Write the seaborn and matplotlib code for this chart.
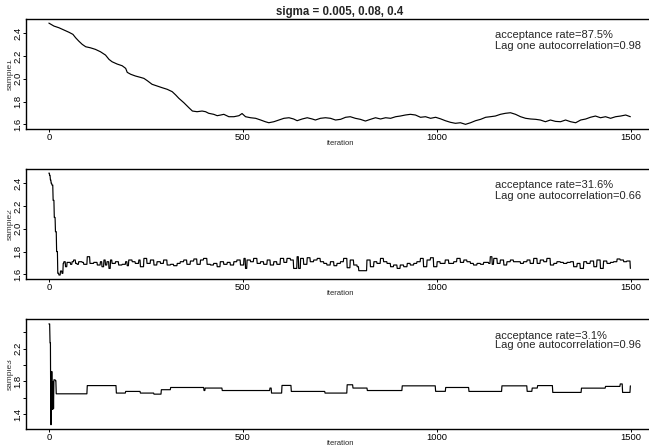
import numpy as np
import pandas as pd
import matplotlib
matplotlib.use("Agg")
import matplotlib.pyplot as plt
from matplotlib.transforms import Bbox, TransformedBbox
import seaborn as sns

# ---- chain 1 (sigma = 0.005): slow random walk, recorded points ----
iter1 = [0, 13, 26, 39, 52, 62, 69, 77, 86, 95, 107, 120, 133, 146, 155, 163,
         176, 189, 198, 202, 211, 223, 236, 245, 254, 266, 279, 292, 305, 318,
         327, 335, 348, 361, 370, 382, 395, 404, 412, 425, 434, 443, 451, 464,
         477, 490, 498, 507, 520, 533, 546, 558, 567, 580, 593, 606, 619, 631,
         640, 653, 666, 679, 687, 700, 713, 726, 739, 752, 765, 777, 790, 803,
         816, 829, 842, 855, 868, 881, 894, 906, 919, 932, 945, 958, 971, 984,
         997, 1010, 1022, 1035, 1048, 1061, 1074, 1087, 1100, 1113, 1126, 1138,
         1151, 1164, 1177, 1190, 1203, 1216, 1229, 1242, 1255, 1267, 1280, 1293,
         1306, 1319, 1332, 1345, 1358, 1371, 1384, 1396, 1409, 1422, 1435, 1448,
         1461, 1474, 1487, 1499]
sample1 = [2.490, 2.464, 2.449, 2.429, 2.409, 2.391, 2.361, 2.332, 2.303, 2.282,
           2.273, 2.259, 2.238, 2.209, 2.171, 2.150, 2.130, 2.115, 2.092, 2.057,
           2.040, 2.025, 2.013, 2.004, 1.983, 1.952, 1.937, 1.922, 1.908, 1.887,
           1.858, 1.829, 1.790, 1.746, 1.717, 1.711, 1.717, 1.711, 1.697, 1.688,
           1.676, 1.682, 1.688, 1.667, 1.667, 1.676, 1.695, 1.667, 1.658, 1.653,
           1.638, 1.623, 1.614, 1.623, 1.638, 1.653, 1.658, 1.647, 1.632, 1.647,
           1.658, 1.647, 1.638, 1.653, 1.658, 1.653, 1.638, 1.644, 1.662, 1.667,
           1.653, 1.644, 1.629, 1.644, 1.658, 1.647, 1.658, 1.653, 1.667, 1.673,
           1.682, 1.688, 1.682, 1.662, 1.667, 1.653, 1.662, 1.648, 1.632, 1.618,
           1.609, 1.614, 1.600, 1.614, 1.632, 1.644, 1.662, 1.667, 1.673, 1.688,
           1.697, 1.702, 1.688, 1.667, 1.653, 1.647, 1.644, 1.638, 1.623, 1.638,
           1.626, 1.623, 1.638, 1.623, 1.614, 1.638, 1.647, 1.662, 1.673, 1.658,
           1.667, 1.653, 1.667, 1.673, 1.682, 1.667]

# ---- chain 2 (sigma = 0.08): iterations where the state changes, new state ----
move_iter2 = [0, 2, 4, 6, 8, 11, 14, 17, 20, 23, 26, 30, 34, 37, 39, 43, 47, 56,
              60, 64, 69, 73, 77, 86, 90, 99, 106, 116, 125, 133, 137, 142, 146,
              150, 155, 159, 163, 172, 180, 189, 198, 202, 206, 215, 223, 232,
              236, 245, 253, 262, 271, 279, 288, 296, 305, 314, 322, 331, 339,
              348, 356, 365, 374, 382, 391, 399, 408, 417, 425, 434, 442, 451,
              460, 468, 477, 485, 494, 503, 507, 511, 520, 528, 537, 546, 554,
              563, 571, 580, 588, 597, 606, 614, 623, 631, 640, 644, 649, 657,
              666, 674, 683, 692, 700, 709, 717, 726, 735, 743, 752, 760, 769,
              777, 786, 795, 799, 820, 829, 838, 846, 855, 863, 872, 881, 889,
              898, 906, 915, 924, 932, 941, 949, 958, 966, 975, 984, 992, 1001,
              1009, 1022, 1031, 1044, 1052, 1061, 1070, 1078, 1087, 1095, 1104,
              1113, 1121, 1134, 1138, 1143, 1147, 1156, 1164, 1173, 1181, 1190,
              1198, 1216, 1224, 1233, 1241, 1250, 1259, 1267, 1276, 1284, 1293,
              1302, 1310, 1319, 1327, 1336, 1345, 1353, 1362, 1370, 1379, 1387,
              1396, 1405, 1413, 1422, 1430, 1439, 1448, 1456, 1465, 1473, 1482,
              1490, 1499]
move_val2 = [2.490, 2.470, 2.430, 2.400, 2.385, 2.250, 2.100, 1.975, 1.800, 1.609,
             1.594, 1.629, 1.609, 1.696, 1.711, 1.667, 1.705, 1.688, 1.711, 1.726,
             1.696, 1.688, 1.711, 1.705, 1.688, 1.755, 1.696, 1.705, 1.682, 1.711,
             1.667, 1.726, 1.682, 1.711, 1.652, 1.726, 1.696, 1.711, 1.682, 1.688,
             1.711, 1.676, 1.726, 1.711, 1.696, 1.726, 1.667, 1.740, 1.696, 1.726,
             1.682, 1.711, 1.696, 1.726, 1.682, 1.688, 1.676, 1.696, 1.711, 1.726,
             1.688, 1.717, 1.735, 1.688, 1.726, 1.740, 1.688, 1.682, 1.696, 1.667,
             1.711, 1.688, 1.705, 1.682, 1.711, 1.726, 1.682, 1.740, 1.652, 1.726,
             1.711, 1.740, 1.696, 1.711, 1.688, 1.726, 1.682, 1.711, 1.688, 1.740,
             1.705, 1.740, 1.726, 1.652, 1.755, 1.652, 1.740, 1.688, 1.746, 1.711,
             1.726, 1.740, 1.711, 1.696, 1.682, 1.711, 1.676, 1.696, 1.711, 1.740,
             1.658, 1.726, 1.682, 1.667, 1.632, 1.726, 1.667, 1.711, 1.696, 1.740,
             1.711, 1.696, 1.667, 1.682, 1.652, 1.682, 1.667, 1.696, 1.682, 1.696,
             1.711, 1.740, 1.667, 1.726, 1.746, 1.667, 1.711, 1.696, 1.726, 1.696,
             1.711, 1.740, 1.705, 1.726, 1.711, 1.696, 1.682, 1.696, 1.688, 1.705,
             1.696, 1.755, 1.688, 1.740, 1.696, 1.726, 1.682, 1.711, 1.726, 1.711,
             1.696, 1.711, 1.726, 1.696, 1.740, 1.696, 1.726, 1.711, 1.740, 1.682,
             1.696, 1.711, 1.705, 1.696, 1.705, 1.711, 1.667, 1.696, 1.652, 1.711,
             1.696, 1.717, 1.667, 1.726, 1.652, 1.717, 1.696, 1.705, 1.711, 1.735,
             1.726, 1.711, 1.717, 1.652]

# ---- chain 3 (sigma = 0.4): iterations where the state changes, new state ----
move_iter3 = [0, 3, 5, 7, 9, 11, 12, 13, 17, 19, 99, 174, 198, 236, 271, 290,
              314, 400, 403, 447, 570, 574, 601, 625, 712, 769, 784, 821, 911,
              997, 1023, 1083, 1168, 1233, 1246, 1260, 1299, 1373, 1435, 1473,
              1479, 1499]
move_val3 = [2.500, 2.270, 1.275, 1.920, 1.460, 1.800, 1.470, 1.820, 1.810, 1.650,
             1.750, 1.659, 1.679, 1.659, 1.646, 1.700, 1.727, 1.690, 1.720, 1.690,
             1.720, 1.659, 1.752, 1.679, 1.659, 1.760, 1.720, 1.690, 1.747, 1.680,
             1.727, 1.679, 1.747, 1.680, 1.720, 1.750, 1.667, 1.719, 1.740, 1.770,
             1.667, 1.747]

n_iter = 1500
sigmas = ["0.005", "0.08", "0.4"]
accept_rates = ["87.5%", "31.6%", "3.1%"]
lag1_acf = ["0.98", "0.66", "0.96"]
y_ticks = [[1.6, 1.8, 2.0, 2.2, 2.4],
           [1.6, 1.8, 2.0, 2.2, 2.4],
           [1.4, 1.6, 1.8, 2.0, 2.2, 2.4]]
y_tick_labels = [["1.6", "1.8", "2.0", "2.2", "2.4"],
                 ["1.6", "1.8", "2.0", "2.2", "2.4"],
                 ["1.4", "", "1.8", "", "2.2", ""]]
x_ticks = [0, 500, 1000, 1500]


def hold_chain(change_iter, change_val, n):
    """Expand change points into the full chain (state held until next move)."""
    change_iter = np.asarray(change_iter)
    reps = np.diff(np.append(change_iter, n))
    return np.repeat(np.asarray(change_val), reps)


chains = [
    pd.DataFrame({"iteration": iter1, "value": sample1}),
    pd.DataFrame({"iteration": np.arange(n_iter),
                  "value": hold_chain(move_iter2, move_val2, n_iter)}),
    pd.DataFrame({"iteration": np.arange(n_iter),
                  "value": hold_chain(move_iter3, move_val3, n_iter)}),
]

sns.set_style("ticks")
plt.rcParams["font.family"] = ["Liberation Sans", "DejaVu Sans"]

W, H = 649, 446
fig = plt.figure(figsize=(W / 100, H / 100), dpi=100)

# panel frames in pixels: (top, bottom); left/right shared
left_px, right_px = 26, 654
frames = [(19, 129), (169, 279), (319, 429)]
ylims = [(1.559, 2.526), (1.559, 2.526), (1.222, 2.560)]
xlim = (-0.04 * (n_iter - 1) + 1, n_iter + 0.04 * (n_iter - 1))
text_baselines = [(37.7, 49.3), (187.7, 199.3), (338.7, 347.7)]

for i, (df, (top, bot)) in enumerate(zip(chains, frames)):
    ax = fig.add_axes([left_px / W, (H - bot) / H,
                       (right_px - left_px) / W, (bot - top) / H])
    sns.lineplot(data=df, x="iteration", y="value", ax=ax, color="black",
                 linewidth=0.85, estimator=None, sort=False)
    ax.set_xlim(*xlim)
    ax.set_ylim(*ylims[i])
    ax.set_xticks(x_ticks)
    ax.set_xticklabels([str(t) for t in x_ticks])
    ax.set_yticks(y_ticks[i])
    ax.set_yticklabels(y_tick_labels[i])
    ax.tick_params(axis="both", direction="out", length=2.2, width=0.7,
                   labelsize=6.8, pad=1.0, color="black", labelcolor="black")
    ax.tick_params(axis="y", labelrotation=90, pad=0.4)
    for lab in ax.get_yticklabels():
        lab.set_va("center")
    for sp in ax.spines.values():
        sp.set_visible(True)
        sp.set_linewidth(1.0)
        sp.set_color("black")
    ax.set_xlabel("iteration", fontsize=5.5, labelpad=-1.6)
    ax.set_ylabel("")

    # rotated axis name, clipped on its left side by the page margin
    ylab = fig.text(10.3 / W, 1 - ((top + bot) / 2) / H, f"sample{i + 1}",
                    rotation=90, ha="center", va="center", fontsize=6,
                    color="#333333")
    ylab.set_clip_box(TransformedBbox(Bbox([[7.2 / W, 0], [15.2 / W, 1]]),
                                      fig.transFigure))
    ylab.set_clip_on(True)

    b1, b2 = text_baselines[i]
    fig.text(495 / W, 1 - b1 / H, f"acceptance rate={accept_rates[i]}",
             fontsize=8, va="baseline", ha="left")
    fig.text(495 / W, 1 - b2 / H, f"Lag one autocorrelation={lag1_acf[i]}",
             fontsize=8, va="baseline", ha="left")

fig.text(340 / W, 1 - 15.5 / H, "sigma = " + ", ".join(sigmas),
         fontsize=8.3, fontweight="bold", ha="center", va="baseline")

fig.savefig("out.png", dpi=100)
